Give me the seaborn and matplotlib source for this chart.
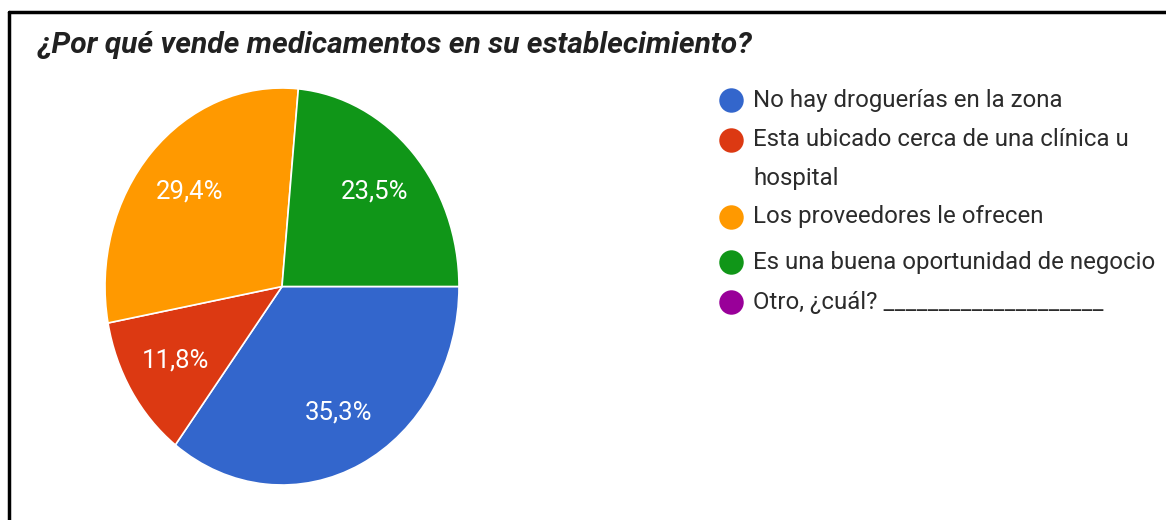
import matplotlib
matplotlib.use("Agg")
import matplotlib.pyplot as plt
import seaborn as sns
from matplotlib.lines import Line2D

# datos de la encuesta
categorias = ['No hay droguerías en la zona',
              'Esta ubicado cerca de una clínica u\nhospital',
              'Los proveedores le ofrecen',
              'Es una buena oportunidad de negocio',
              'Otro, ¿cuál? ____________________']
respuestas = [6, 2, 5, 4, 0]
colores = ['#3366cc', '#dc3912', '#ff9900', '#109618', '#990099']
titulo = '¿Por qué vende medicamentos en su establecimiento?'

sns.set_theme(style='white')
plt.rcParams['font.family'] = ['Roboto', 'DejaVu Sans']

fig = plt.figure(figsize=(11.66, 5.2), dpi=100)
fig.patch.set_facecolor('white')

# pie (ligeramente estirado en vertical como la captura)
ax = fig.add_axes([105 / 1166, 35 / 520, 354 / 1166, 397 / 520])
valores = [v for v in respuestas if v > 0]
cols = [c for v, c in zip(respuestas, colores) if v > 0]
wedges, texts, autotexts = ax.pie(
    valores, colors=cols, startangle=0, counterclock=False,
    autopct=lambda p: ('%.1f%%' % p).replace('.', ','),
    pctdistance=0.71,
    wedgeprops=dict(edgecolor='white', linewidth=1.2),
    textprops=dict(color='white', fontsize=18.5))
ax.set_aspect('auto')
ax.set_xlim(-1, 1)
ax.set_ylim(-1, 1)
ax.axis('off')

fig.text(38 / 1166, 1 - 45 / 520, titulo, fontsize=21.6, fontweight='bold',
         fontstyle='italic', color='#212121', va='center', ha='left')

# leyenda dibujada a mano
lax = fig.add_axes([0, 0, 1, 1])
lax.set_xlim(0, 1166)
lax.set_ylim(520, 0)
lax.axis('off')
y_filas = [100, 140, 217, 262, 302]
for cat, col, y in zip(categorias, colores, y_filas):
    lax.scatter([731], [y], s=310, color=col, linewidths=0, zorder=3)
    for i, linea in enumerate(cat.split('\n')):
        lax.text(753, y + i * 38, linea, fontsize=17.3, color='#2b2b2b',
                 va='center', ha='left')

# marco de la captura
fig.add_artist(Line2D([9 / 1166, 9 / 1166], [0, 1 - 12 / 520], color='black', lw=2.5))
fig.add_artist(Line2D([9 / 1166, 1], [1 - 12 / 520, 1 - 12 / 520], color='black', lw=2.5))

fig.savefig('out.png', dpi=100)
